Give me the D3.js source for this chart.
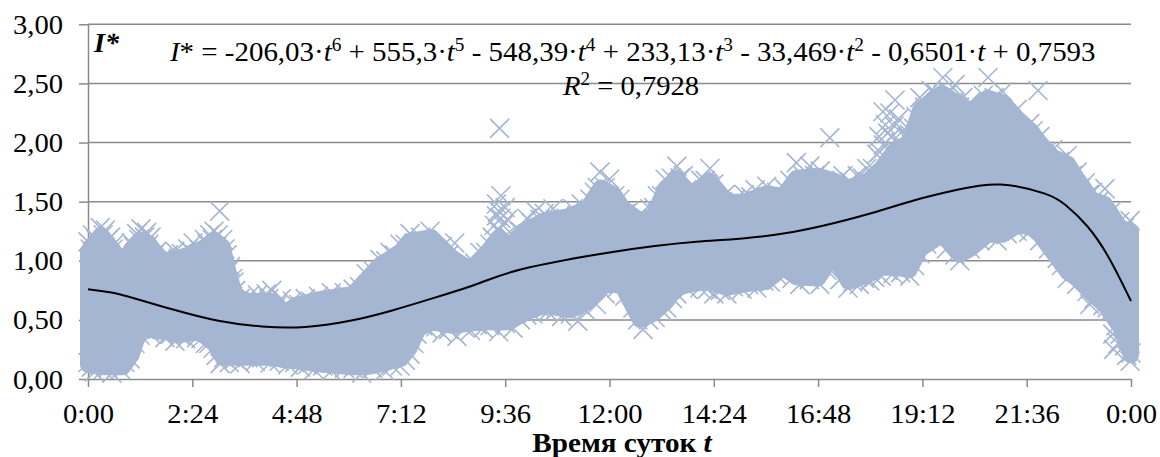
<!DOCTYPE html>
<html>
<head>
<meta charset="utf-8">
<script src="https://cdn.jsdelivr.net/npm/d3@7"></script>
<style>
  html, body { margin: 0; padding: 0; background: #fff; }
  svg { display: block; }
  text { font-family: "Liberation Serif", "Times New Roman", serif; fill: #000; }
  .axis path, .axis line { stroke: #8a8a8a; stroke-width: 1.5; }
</style>
</head>
<body>
<div class="chart"></div>
<script>
// tick labels
const yTicks = [0, 0.5, 1, 1.5, 2, 2.5, 3];
const yTickLabels = ["0,00", "0,50", "1,00", "1,50", "2,00", "2,50", "3,00"];
const xTicks = [0, 2.4, 4.8, 7.2, 9.6, 12, 14.4, 16.8, 19.2, 21.6, 24];
const xTickLabels = ["0:00", "2:24", "4:48", "7:12", "9:36", "12:00", "14:24", "16:48", "19:12", "21:36", "0:00"];

// the cloud is saturated in the middle, so its solid part is kept as upper and lower limits
const bandTimes = [0,0.3,0.6,0.8,1,1.2,1.4,1.6,1.8,2,2.3,2.5,2.7,2.9,3.1,3.25,3.4,3.7,4.2,4.5,4.8,5.4,6.1,6.4,6.7,7.2,7.4,7.6,7.9,8.4,8.8,9.2,9.45,9.7,10,10.5,11.1,11.5,11.8,12.1,12.3,12.7,13,13.3,13.55,13.85,14.3,14.7,15.1,15.6,16,16.3,16.8,17.15,17.5,17.95,18.25,18.6,18.9,19.15,19.65,20.05,20.3,20.7,21.05,21.4,21.7,21.9,22.2,22.55,22.75,23.1,23.4,23.75,24];
const bandHigh = [1.08,1.22,1.08,0.98,1.1,1.18,1.15,1.03,1,1.02,1.05,1.08,1.12,1.18,1.12,0.88,0.7,0.66,0.66,0.55,0.63,0.68,0.72,0.84,0.96,1.08,1.17,1.18,1.2,1.02,0.93,1.08,1.2,1.12,1.25,1.34,1.38,1.45,1.62,1.56,1.45,1.34,1.38,1.62,1.7,1.55,1.68,1.5,1.5,1.57,1.55,1.7,1.72,1.68,1.62,1.68,1.78,1.95,2,2.28,2.42,2.32,2.25,2.38,2.34,2.2,2.1,2,1.88,1.82,1.7,1.52,1.48,1.28,1.25];
const bandLow = [0.12,0.1,0.1,0.1,0.2,0.42,0.42,0.4,0.4,0.37,0.38,0.4,0.36,0.3,0.18,0.18,0.18,0.18,0.18,0.16,0.15,0.12,0.1,0.1,0.12,0.17,0.26,0.42,0.48,0.45,0.47,0.48,0.48,0.48,0.55,0.62,0.58,0.65,0.78,0.8,0.78,0.5,0.55,0.65,0.77,0.8,0.82,0.77,0.8,0.82,0.94,0.86,0.85,1.05,0.82,0.88,0.94,0.94,0.92,1.1,1.22,1.05,1.1,1.22,1.22,1.3,1.28,1.22,1.07,0.9,0.85,0.72,0.62,0.44,0.2];

// individual crosses along the top of the cloud
const upperTimes = [0,0.1,0.28,0.4,0.52,0.62,0.75,0.9,1,1.12,1.22,1.35,1.45,1.58,1.7,1.85,2,2.15,2.3,2.42,2.55,2.68,2.8,2.9,3.03,3,3.1,3.2,3.28,3.36,3.4,3.5,3.7,3.9,4.1,4.23,4.45,4.53,4.7,5,5.3,5.6,5.9,6.1,6.4,6.72,6.95,7.18,7.41,7.65,7.87,8.15,8.44,8.79,9.02,9.25,9.4,9.5,9.6,9.83,10.1,10.3,10.5,10.7,10.86,11.16,11.35,11.55,11.78,12,12.24,12.45,12.7,12.93,13.1,13.28,13.55,13.7,13.85,14.1,14.31,14.66,14.9,15.1,15.35,15.62,15.85,16.03,16.3,16.61,16.85,17.07,17.37,17.53,17.7,17.92,18.22,18.29,18.57,18.9,19.14,19.4,19.67,19.95,20.13,20.3,20.5,20.71,21.05,21.38,21.67,21.86,21.9,22.2,22.53,22.76,22.95,23.12,23.4,23.74,23.98,9.47];
const upperValues = [1.16,1.22,1.28,1.26,1.2,1.15,1,1.03,1.15,1.23,1.27,1.24,1.2,1.08,1.02,1.05,1.08,1.06,1.1,1.15,1.1,1.18,1.22,1.25,1.42,1.22,1.18,1.05,0.95,0.82,0.75,0.68,0.7,0.71,0.72,0.75,0.68,0.57,0.66,0.68,0.7,0.73,0.73,0.76,0.89,1.01,1.07,1.14,1.23,1.2,1.25,1.12,1.15,0.97,1.07,1.14,1.38,1.55,1.45,1.14,1.36,1.42,1.4,1.44,1.38,1.44,1.48,1.52,1.75,1.69,1.52,1.42,1.39,1.44,1.55,1.69,1.8,1.72,1.61,1.68,1.78,1.56,1.52,1.56,1.6,1.63,1.58,1.61,1.83,1.8,1.76,2.04,1.72,1.67,1.72,1.78,1.92,2.26,2.36,2.07,2.38,2.44,2.55,2.49,2.38,2.34,2.24,2.55,2.43,2.28,2.16,2.44,2.05,1.94,1.89,1.75,1.66,1.58,1.61,1.33,1.34,2.12];
const upperInnerTimes = [0.05,0.18,0.35,0.46,0.58,0.7,1.05,1.17,1.3,1.4,1.52,1.65,1.78,1.93,2.08,2.22,2.36,2.48,2.62,2.74,2.86,2.96,3.15,3.24,3.33,3.45,3.6,3.8,4,4.16,4.35,4.62,4.85,5.15,5.45,5.75,6,6.25,6.55,6.85,7.05,7.3,7.5,7.75,8,8.3,8.6,8.9,9.15,9.3,9.35,9.45,9.55,9.65,9.7,9.95,10.2,10.4,10.6,10.8,11,11.25,11.45,11.65,11.72,11.9,12.12,12.35,12.6,12.82,13.02,13.2,13.42,13.62,13.78,14,14.2,14.4,14.55,14.8,15,15.25,15.5,15.75,15.95,16.15,16.45,16.72,16.95,17.2,17.45,17.62,17.82,18.05,18.15,18.2,18.35,18.45,18.5,18.65,18.7,18.8,18.95,19.05,19.25,19.5,19.8,20.05,20.22,20.4,20.6,20.85,21.2,21.5,21.75,22.05,22.35,22.65,22.85,23.03,23.25,23.55,23.85,23.95,18.3,18.4,18.55,18.75,18.85,19,9.4,9.5,9.42,9.58];
const upperInnerValues = [1.1,1.18,1.22,1.18,1.1,1,1.12,1.18,1.2,1.14,1.05,0.98,0.98,1,1.02,1.03,1.08,1.05,1.08,1.14,1.18,1.12,1.1,0.92,0.85,0.66,0.66,0.65,0.66,0.68,0.62,0.6,0.63,0.65,0.66,0.68,0.7,0.78,0.92,1,1.05,1.14,1.15,1.16,1.1,1.05,0.93,0.98,1.07,1.2,1.3,1.42,1.3,1.35,1.2,1.25,1.32,1.35,1.36,1.33,1.35,1.38,1.42,1.58,1.62,1.62,1.55,1.4,1.34,1.36,1.45,1.55,1.7,1.7,1.6,1.6,1.68,1.65,1.52,1.48,1.5,1.54,1.55,1.54,1.54,1.68,1.72,1.72,1.68,1.66,1.62,1.64,1.7,1.78,1.9,2.05,2.15,2.25,2.05,2.2,2,1.9,1.98,2.22,2.3,2.42,2.42,2.3,2.25,2.2,2.4,2.38,2.22,2.1,2.1,1.92,1.84,1.72,1.62,1.56,1.5,1.42,1.28,1.2,1.98,2.08,2.14,2.1,2.05,2.12,1.48,1.36,1.26,1.2];

// individual crosses along the bottom of the cloud
const lowerTimes = [0,0.15,0.35,0.55,0.75,0.97,1.2,1.45,1.77,2,2.25,2.5,2.7,2.88,3.04,3.25,3.5,3.85,4.19,4.6,4.89,5.2,5.6,5.9,6.3,6.83,7.18,7.41,7.57,7.8,8.15,8.49,8.8,9.09,9.45,9.78,10.24,10.58,10.9,11.27,11.7,12.17,12.54,12.77,13.05,13.32,13.55,14.08,14.4,14.7,15.05,15.39,15.7,15.99,16.38,16.84,17.14,17.49,17.75,17.99,18.25,18.52,18.91,19.14,19.53,20.06,20.52,20.92,21.38,21.9,22.3,22.53,22.99,23.05,23.52,23.58,23.6,23.98,24];
const lowerValues = [0.14,0.06,0.08,0.05,0.08,0.17,0.37,0.38,0.35,0.32,0.34,0.35,0.3,0.26,0.13,0.14,0.13,0.15,0.135,0.12,0.1,0.08,0.07,0.09,0.05,0.07,0.11,0.21,0.38,0.43,0.39,0.36,0.41,0.43,0.4,0.43,0.55,0.57,0.53,0.49,0.63,0.77,0.6,0.42,0.52,0.6,0.72,0.77,0.72,0.72,0.76,0.77,0.82,0.89,0.8,0.8,1.02,0.77,0.8,0.83,0.87,0.89,0.87,1.06,1.19,1,1.17,1.17,1.25,1.17,1.02,0.85,0.74,0.63,0.57,0.38,0.25,0.15,0.22];
const lowerInnerTimes = [0.08,0.25,0.45,0.65,0.85,1.08,1.3,1.6,1.9,2.12,2.38,2.6,2.78,2.95,3.12,3.38,3.68,4,4.4,4.75,5.05,5.4,5.75,6.1,6.55,7,7.3,7.5,7.7,8,8.3,8.65,8.95,9.25,9.6,9.95,10.1,10.4,10.75,11.1,11.45,11.9,12.35,12.65,12.9,13.2,13.45,13.8,14.25,14.55,14.85,15.2,15.55,15.85,16.2,16.6,17,17.3,17.6,17.87,18.1,18.4,18.7,19.02,19.3,19.75,19.95,20.3,20.72,21.15,21.65,22.1,22.4,22.75,23.15,23.35,23.45,23.65,23.75,23.85,23.9,23.7];
const lowerInnerValues = [0.1,0.12,0.1,0.12,0.14,0.3,0.42,0.42,0.38,0.37,0.39,0.34,0.3,0.2,0.18,0.17,0.18,0.18,0.15,0.14,0.12,0.11,0.12,0.09,0.09,0.11,0.16,0.3,0.45,0.44,0.42,0.44,0.46,0.45,0.47,0.5,0.54,0.6,0.58,0.55,0.58,0.72,0.7,0.5,0.5,0.58,0.68,0.76,0.76,0.75,0.78,0.8,0.83,0.88,0.85,0.84,0.92,0.84,0.82,0.85,0.86,0.92,0.9,0.96,1.14,1.1,1.05,1.1,1.22,1.23,1.24,1.1,0.96,0.8,0.68,0.62,0.6,0.45,0.38,0.28,0.2,0.3];

// trend line
const trendTimes = [0,0.5,1,2,3,4,5,6,7,8,9,10,12,14,16,18,19,20,21,22,22.5,23,23.5,24];
const trendValues = [0.759,0.733,0.689,0.583,0.492,0.444,0.44,0.49,0.58,0.69,0.81,0.93,1.07,1.16,1.23,1.4,1.51,1.6,1.645,1.57,1.47,1.29,1.02,0.66];

// equation text runs: text, style
const eqParts = [["I","i"],["* = -206,03·",""],["t","i"],["6","s"],[" + 555,3·",""],["t","i"],["5","s"],[" - 548,39·",""],["t","i"],["4","s"],[" + 233,13·",""],["t","i"],["3","s"],[" - 33,469·",""],["t","i"],["2","s"],[" - 0,6501·",""],["t","i"],[" + 0,7593",""]];
const r2Parts = [["R","i"],["2","s"],[" = 0,7928",""]];

const width = 1160, height = 457;
const margin = {top: 24.3, right: 29, bottom: 78, left: 88};
const markerColor = "#a5b6d2";

let svg = d3.select(".chart")
    .append("svg")
    .attr("width", width)
    .attr("height", height);

// scales
let x = d3.scaleLinear().domain([0, 24]).range([margin.left, width - margin.right]);
let y = d3.scaleLinear().domain([0, 3]).range([height - margin.bottom, margin.top]);

// stretch a text a little, the reference font runs wider than Liberation Serif
function stretch(sel, k) {
    sel.each(function() {
        d3.select(this)
            .attr("textLength", this.getComputedTextLength() * k)
            .attr("lengthAdjust", "spacingAndGlyphs");
    });
}

// grid + axes
svg.append("g")
    .attr("class", "axis")
    .selectAll("line")
    .data(yTicks.slice(1))
    .enter()
    .append("line")
    .attr("x1", x(0))
    .attr("x2", x(24))
    .attr("y1", d => y(d))
    .attr("y2", d => y(d));

let yAxis = svg.append("g")
    .attr("class", "axis")
    .attr("transform", "translate(" + x(0) + ",0)")
    .call(d3.axisLeft(y).tickValues(yTicks).tickSize(9).tickSizeOuter(0).tickPadding(16)
        .tickFormat((d, i) => yTickLabels[i]));
yAxis.selectAll("text")
    .attr("font-size", 27)
    .attr("dy", 9)
    .call(stretch, 1.06);

let xAxis = svg.append("g")
    .attr("class", "axis")
    .attr("transform", "translate(0," + y(0) + ")")
    .call(d3.axisBottom(x).tickValues(xTicks).tickSize(8).tickSizeOuter(0).tickPadding(0)
        .tickFormat((d, i) => xTickLabels[i]));
xAxis.selectAll("text")
    .attr("font-size", 27)
    .attr("y", 44)
    .attr("dy", 0)
    .call(stretch, 1.06);

// solid part of the cloud
svg.append("path")
    .attr("d", d3.area()
        .x((d, i) => x(bandTimes[i]))
        .y0((d, i) => y(bandLow[i]))
        .y1((d, i) => y(bandHigh[i]))(bandTimes))
    .attr("fill", markerColor)
    .attr("stroke", markerColor)
    .attr("stroke-width", 16)
    .attr("stroke-linejoin", "round");

// crosses
let cross = d3.symbol(d3.symbolX, 237);
function drawCrosses(times, values) {
    svg.append("g")
        .selectAll("path")
        .data(times)
        .enter()
        .append("path")
        .attr("d", cross)
        .attr("transform", (d, i) => "translate(" + x(d) + "," + y(values[i]) + ")")
        .attr("fill", "none")
        .attr("stroke", markerColor)
        .attr("stroke-width", 1.6);
}
drawCrosses(upperTimes, upperValues);
drawCrosses(upperInnerTimes, upperInnerValues);
drawCrosses(lowerTimes, lowerValues);
drawCrosses(lowerInnerTimes, lowerInnerValues);

// trend
svg.append("path")
    .attr("d", d3.line()
        .x((d, i) => x(trendTimes[i]))
        .y((d, i) => y(trendValues[i]))
        .curve(d3.curveNatural)(trendTimes))
    .attr("fill", "none")
    .attr("stroke", "#000")
    .attr("stroke-width", 2);

// text with italics and superscripts
function richText(parts, px, py, k) {
    let t = svg.append("text")
        .attr("x", px)
        .attr("y", py)
        .attr("font-size", 27);
    let raised = false;
    parts.forEach(p => {
        let s = t.append("tspan").text(p[0]);
        if (p[1] === "i") s.attr("font-style", "italic");
        if (p[1] === "s") {
            s.attr("font-size", 18).attr("dy", -10);
            raised = true;
        } else if (raised) {
            s.attr("dy", 10);
            raised = false;
        }
    });
    t.call(stretch, k);
    return t;
}
richText(eqParts, 170, 61, 1.071);
richText(r2Parts, 563, 95, 1.06);

// corner label
svg.append("text")
    .attr("x", 94)
    .attr("y", 52)
    .attr("font-size", 28)
    .attr("font-weight", "bold")
    .attr("font-style", "italic")
    .text("I*");

// x axis title
let xTitle = svg.append("text")
    .attr("x", 622)
    .attr("y", 452)
    .attr("font-size", 27)
    .attr("font-weight", "bold")
    .attr("text-anchor", "middle");
xTitle.append("tspan").text("Время суток ");
xTitle.append("tspan").attr("font-style", "italic").text("t");
xTitle.call(stretch, 1.08);
</script>
</body>
</html>
